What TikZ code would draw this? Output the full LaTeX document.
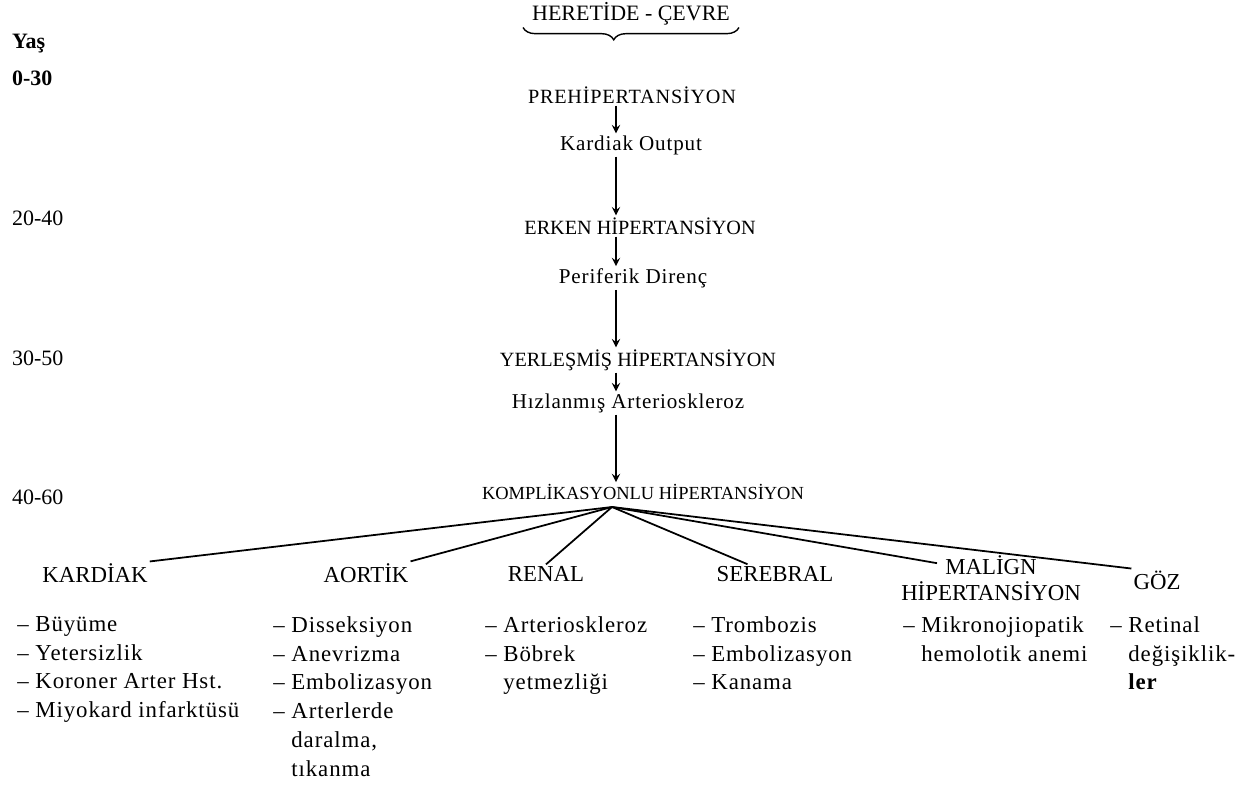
\documentclass[tikz,border=0pt]{standalone}
\usepackage{fontspec}
\setmainfont{Liberation Serif}
\newfontfamily\spacedfont{Liberation Serif}[LetterSpace=4]
\usetikzlibrary{decorations.pathreplacing}

\begin{document}
\begin{tikzpicture}[
    x=0.02cm, y=-0.02cm,
    every node/.style={align=center, inner sep=1pt},
    age/.style={anchor=west, font=\fontsize{12.5}{15}\selectfont},
    agebold/.style={anchor=west, font=\fontsize{12.5}{15}\selectfont\bfseries},
    stage/.style={font=\fontsize{11.5}{14}\selectfont},
    cause/.style={font=\spacedfont\fontsize{12}{14}\selectfont},
    organ/.style={font=\fontsize{13}{15}\selectfont},
    finding/.style={anchor=north west, align=left, inner sep=0pt, font=\spacedfont\fontsize{13}{16.4}\selectfont},
    arrow/.style={->, >=stealth, line width=1.1pt},
    branch/.style={line width=1pt}
]
\useasboundingbox (0,0) rectangle (1244,785);

% Heading with brace
\node[font=\fontsize{12.5}{15}\selectfont] (title) at (631,14) {HERETİDE - ÇEVRE};
\draw[thick, decorate, decoration={brace, mirror, amplitude=7pt, aspect=0.42}]
    ([xshift=-4pt]title.south west) -- ([xshift=4pt]title.south east);

% Age column
\node[agebold] (yas) at (10,44) {Yaş};
\node[agebold] (age1) at (10,78) {0-30};
\node[age] (age2) at (10,218) {20-40};
\node[age] (age3) at (10,358) {30-50};
\node[age] (age4) at (10,497) {40-60};

% Main chain
\coordinate (axis) at (616,0);
\node[stage, font=\spacedfont\fontsize{11.5}{14}\selectfont] (pre) at (632,95) {PREHİPERTANSİYON};
\node[cause] (card) at (631,145) {Kardiak Output};
\node[stage] (erken) at (640,226) {ERKEN HİPERTANSİYON};
\node[cause] (perif) at (633,278) {Periferik Direnç};
\node[stage] (yerl) at (638,360) {YERLEŞMİŞ HİPERTANSİYON};
\node[cause] (hizl) at (628,403) {Hızlanmış Arterioskleroz};
\node[stage, font=\fontsize{10.5}{13}\selectfont] (komp) at (643,492) {KOMPLİKASYONLU HİPERTANSİYON};

% Chain arrows
\draw[arrow] (pre.south -| axis) -- (card.north -| axis);
\draw[arrow] (card.south -| axis) -- (erken.north -| axis);
\draw[arrow] (erken.south -| axis) -- (perif.north -| axis);
\draw[arrow] (perif.south -| axis) -- (yerl.north -| axis);
\draw[arrow] (yerl.south -| axis) -- (hizl.north -| axis);
\draw[arrow] (hizl.south -| axis) -- (komp.north -| axis);

% Complications
\coordinate (hub) at (612,507);
\node[organ] (kardiak) at (95,573) {KARDİAK};
\node[organ] (aortik) at (366,573) {AORTİK};
\node[organ] (renal) at (546,574) {RENAL};
\node[organ] (serebral) at (775,574) {SEREBRAL};
\node[organ] (malign) at (991,578) {MALİGN\\HİPERTANSİYON};
\node[organ] (goz) at (1157,580) {GÖZ};

\draw[branch] (hub) -- (kardiak.north east);
\draw[branch] (hub) -- (aortik.north east);
\draw[branch] (hub) -- (renal.north);
\draw[branch] (hub) -- ([xshift=-0.55cm]serebral.north);
\draw[branch] (hub) -- ([xshift=-1.08cm,yshift=-0.2cm]malign.north);
\draw[branch] (hub) -- (goz.north west);

% Findings under each organ
\node[finding] (kardiaklist) at (17,616) {–\ Büyüme\\–\ Yetersizlik\\–\ Koroner Arter Hst.\\–\ Miyokard infarktüsü};
\node[finding] (aortiklist) at (273,616) {–\ Disseksiyon\\–\ Anevrizma\\–\ Embolizasyon\\–\ Arterlerde\\\hphantom{–\ }daralma,\\\hphantom{–\ }tıkanma};
\node[finding] (renallist) at (485,616) {–\ Arterioskleroz\\–\ Böbrek\\\hphantom{–\ }yetmezliği};
\node[finding] (serebrallist) at (693,616) {–\ Trombozis\\–\ Embolizasyon\\–\ Kanama};
\node[finding] (maliglist) at (903,616) {–\ Mikronojiopatik\\\hphantom{–\ }hemolotik anemi};
\node[finding] (gozlist) at (1110,616) {–\ Retinal\\\hphantom{–\ }değişiklik-\\\hphantom{–\ }\textbf{ler}};

\end{tikzpicture}
\end{document}
